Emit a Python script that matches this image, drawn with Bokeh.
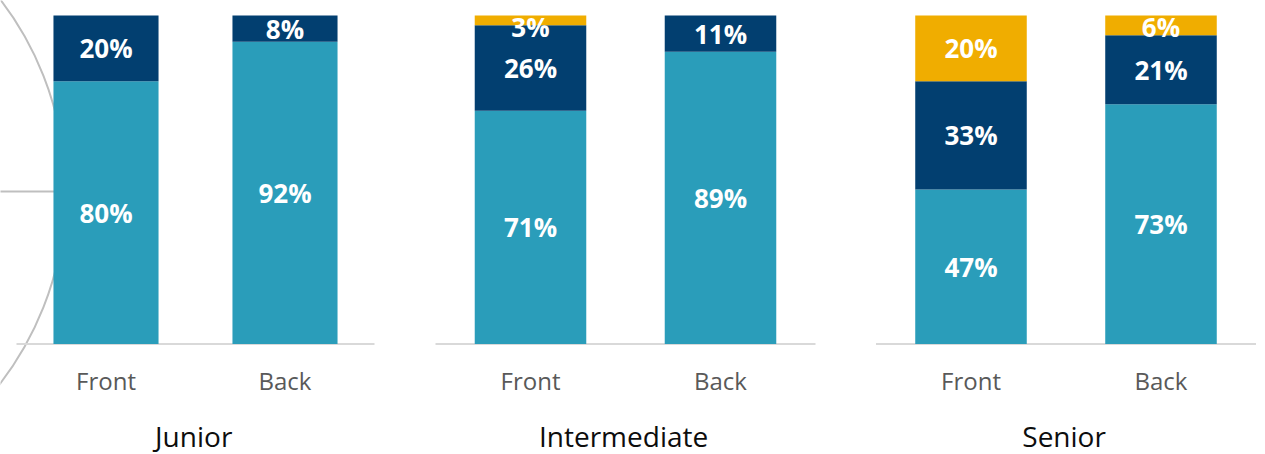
from bokeh.plotting import figure
from bokeh.layouts import row
from bokeh.models import ColumnDataSource, Range1d
from bokeh.core.properties import value
from bokeh.embed import file_html
from bokeh.resources import INLINE

# ---------------- data ----------------
groups = ["Junior", "Intermediate", "Senior"]
positions = ["Front", "Back"]
series_names = ["Series 1", "Series 2", "Series 3"]   # bottom, middle, top segment
junior_values = [[80, 92], [20, 8], [0, 0]]
intermediate_values = [[71, 89], [26, 11], [3, 0]]
senior_values = [[47, 73], [33, 21], [20, 6]]
group_values = [junior_values, intermediate_values, senior_values]

# ---------------- style ----------------
colors = ["#2A9DBA", "#023F70", "#F0AD00"]
FONT = "Open Sans"
BAR_W = 0.587
# per panel: figure width (px), px per x unit, px from figure left to "Front" centre
panel_geom = [(405, 179, 105.5), (440, 190, 125.0), (412, 190, 125.5)]
FIG_H = 454
TOP_PX = 15            # pixel row of the 100 % level
PX_PER_Y = 328.5
BASE_PX = TOP_PX + PX_PER_Y
y_end = 1.0 + TOP_PX / PX_PER_Y
y_start = y_end - FIG_H / PX_PER_Y

figs = []
for gi, (gname, vals) in enumerate(zip(groups, group_values)):
    w, ux, off = panel_geom[gi]
    xs = float(-off / ux)
    p = figure(width=w, height=FIG_H, output_backend="svg", toolbar_location=None,
               x_axis_type=None, y_axis_type=None,
               x_range=Range1d(xs, xs + w / ux), y_range=Range1d(y_start, y_end),
               min_border_left=0, min_border_right=0, min_border_top=0,
               min_border_bottom=0)
    p.outline_line_color = None
    p.background_fill_color = None
    p.border_fill_color = None
    p.xgrid.visible = False
    p.ygrid.visible = False

    # decorative circle + radius line on the left of the first panel
    if gi == 0:
        cx, cy, r = (-250 - 105.5) / 179.0, (BASE_PX - 191) / PX_PER_Y, 315
        p.scatter(x=[cx], y=[cy], size=2 * r, marker="circle", fill_color=None,
                  line_color="#BFBFBF", line_width=2)
        p.segment(x0=[cx], y0=[cy], x1=[cx + r / ux], y1=[cy],
                  line_color="#BFBFBF", line_width=2)

    # baseline (axis line)
    p.segment(x0=[-0.5], y0=[0], x1=[1.5], y1=[0], line_color="#D9D9D9", line_width=2)

    xpos = list(range(len(positions)))
    bottoms = [0.0] * len(positions)
    lx, ly, lt = [], [], []
    for si, svals in enumerate(vals):
        fr = [v / 100.0 for v in svals]
        tops = [b + f for b, f in zip(bottoms, fr)]
        src = ColumnDataSource(dict(x=xpos, bottom=bottoms, top=tops))
        p.vbar(x="x", width=BAR_W, bottom="bottom", top="top", source=src,
               fill_color=colors[si], line_color=None)
        for xi, (b, t, v) in enumerate(zip(bottoms, tops, svals)):
            if v > 0:
                lx.append(xi)
                ly.append(min((b + t) / 2.0, 1.0 - 0.035))
                lt.append(f"{v}%")
        bottoms = tops

    p.text(x=lx, y=ly, text=lt, text_align="center", text_baseline="middle",
           text_color="white", text_font=value(FONT), text_font_style="bold",
           text_font_size="26px")

    # category labels (centre of capitals at ~380 px)
    p.text(x=xpos, y=[(BASE_PX - 380) / PX_PER_Y] * len(xpos), text=positions,
           text_align="center", text_baseline="middle", text_color="#595959",
           text_font=value(FONT), text_font_size="24px")
    # group label (centre of capitals at ~435 px)
    p.text(x=[0.49], y=[(BASE_PX - 435) / PX_PER_Y], text=[gname], text_align="center",
           text_baseline="middle", text_color="#0D0D0D",
           text_font=value(FONT), text_font_size="28px")
    figs.append(p)

layout = row(*figs, spacing=0)
open("out.html", "w").write(file_html(layout, INLINE))
